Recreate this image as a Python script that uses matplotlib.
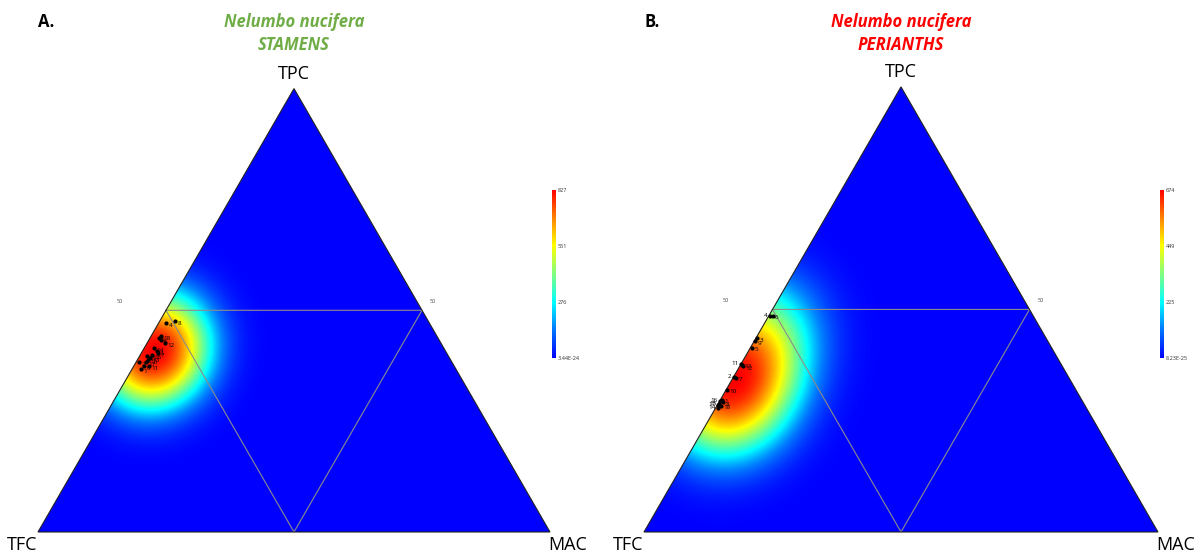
import numpy as np
import matplotlib.pyplot as plt
from matplotlib.colors import LinearSegmentedColormap
from matplotlib.patches import Polygon

W, H = 1196, 553

# sample compositions (%)
stamen_ids = list(range(1, 19))
stamen_tpc = [36.7, 38.3, 40.8, 47.1, 43.2, 37.4, 40.3, 47.5, 43.7,
              38.7, 37.4, 42.6, 39.2, 41.4, 39.6, 39.9, 38.3, 44.1]
stamen_mac = [1.8, 0.6, 2.9, 1.5, 2.4, 2.0, 3.3, 3.0, 1.8,
              2.1, 3.0, 3.5, 2.3, 1.9, 1.5, 2.3, 2.0, 2.0]

perianth_ids = list(range(1, 19))
perianth_tpc = [29.7, 34.9, 43.5, 48.6, 41.4, 48.6, 34.7, 29.1, 42.8,
                32.0, 37.8, 37.2, 37.6, 27.9, 28.8, 29.5, 28.6, 28.4]
perianth_mac = [0.3, 0.1, 0.2, 0.2, 0.3, 0.7, 0.5, 0.8, 0.2,
                0.2, 0.0, 0.7, 0.3, 0.5, 0.2, 0.0, 0.1, 0.8]

stamen_ticks = ['3.44E-24', '276', '551', '827']
perianth_ticks = ['8.23E-25', '225', '449', '674']
stamen_max = 827
perianth_max = 674

cmap = LinearSegmentedColormap.from_list('dens', [
    (0.0, '#0000ff'), (0.18, '#0080ff'), (0.33, '#00ffff'), (0.5, '#80ff80'),
    (0.67, '#ffff00'), (0.84, '#ff8000'), (1.0, '#ff0000')])

R3 = np.sqrt(3) / 2


def to_xy(tpc, mac):
    tpc = np.asarray(tpc) / 100
    mac = np.asarray(mac) / 100
    return mac + tpc / 2, tpc * R3


fig = plt.figure(figsize=(W / 100, H / 100), dpi=100)
plt.rcParams['font.family'] = ['Open Sans', 'DejaVu Sans']


def draw_panel(x0, scale, tag, name, color, tpc, mac, ids, vmax, ticks, left_ids, sigma):
    xmin, xmax, ymin, ymax = -0.06, 1.06, -0.035, 0.93
    left = x0 + xmin * scale
    bottom_px = 532 - ymin * scale
    ax = fig.add_axes([left / W, (H - bottom_px) / H,
                       (xmax - xmin) * scale / W, (ymax - ymin) * scale / H])
    ax.set_xlim(xmin, xmax)
    ax.set_ylim(ymin, ymax)
    ax.axis('off')

    px, py = to_xy(tpc, mac)

    # density surface: gaussian kernels, then a slightly flatter top
    gx = np.linspace(0, 1, 500)
    gy = np.linspace(0, R3, 434)
    X, Y = np.meshgrid(gx, gy)
    D = np.zeros_like(X)
    for a, b in zip(px, py):
        D += np.exp(-((X - a) ** 2 + (Y - b) ** 2) / (2 * sigma ** 2))
    D = np.clip(D / D.max(), 1e-300, 1)
    D = np.exp(-(-np.log(D)) ** 1.2) * vmax

    tri = Polygon([[0, 0], [1, 0], [0.5, R3]], closed=True, fc='none',
                  ec='#222222', lw=0.8, zorder=3)
    ax.add_patch(tri)
    im = ax.imshow(D, extent=[0, 1, 0, R3], origin='lower', cmap=cmap,
                   vmin=0, vmax=vmax, interpolation='bilinear', aspect='auto')
    im.set_clip_path(tri)

    # medial lines at 50 %
    ax.plot([0.25, 0.75, 0.5, 0.25], [R3 / 2, R3 / 2, 0, R3 / 2],
            color='#8c8c8c', lw=0.8, zorder=2)

    ax.scatter(px, py, s=4, color='black', zorder=4)
    for a, b, i in zip(px, py, ids):
        if i in left_ids:
            ax.text(a - 0.005, b, str(i), fontsize=4.5, ha='right', va='center', zorder=5)
        else:
            ax.text(a + 0.005, b - 0.004, str(i), fontsize=4.5, ha='left', va='center', zorder=5)

    ax.text(0.5, 0.895, 'TPC', fontsize=13, ha='center', va='center')
    ax.text(-0.031, -0.025, 'TFC', fontsize=13, ha='center', va='center')
    ax.text(1.035, -0.025, 'MAC', fontsize=13, ha='center', va='center')
    ax.text(0.16, 0.451, '50', fontsize=4, ha='center', va='center', color='#444444')
    ax.text(0.771, 0.451, '50', fontsize=4, ha='center', va='center', color='#444444')

    fig.text(x0 / W, 1 - 22 / H, tag, fontsize=12, fontweight='bold',
             ha='left', va='center')
    fig.text((x0 + 0.5 * scale) / W, 1 - 22 / H, 'Nelumbo nucifera', fontsize=12,
             fontweight='bold', style='italic', color=color, ha='center', va='center')
    fig.text((x0 + 0.5 * scale) / W, 1 - 45 / H, name, fontsize=12,
             fontweight='bold', style='italic', color=color, ha='center', va='center')

    cax = fig.add_axes([(x0 + scale + 2) / W, (H - 358) / H, 4 / W, 168 / H])
    cb = fig.colorbar(im, cax=cax, ticks=[0, vmax / 3, 2 * vmax / 3, vmax])
    cb.ax.set_yticklabels(ticks)
    cb.outline.set_visible(False)
    cb.ax.tick_params(length=0, labelsize=4, pad=1.5, labelcolor='#333333')


draw_panel(38, 512, 'A.', 'STAMENS', '#70ad47', stamen_tpc, stamen_mac,
           stamen_ids, stamen_max, stamen_ticks, [], 0.074)
draw_panel(644, 514, 'B.', 'PERIANTHS', '#ff0000', perianth_tpc, perianth_mac,
           perianth_ids, perianth_max, perianth_ticks, [4, 11, 2, 16, 15, 14, 17], 0.088)

fig.savefig('out.png', dpi=100)
